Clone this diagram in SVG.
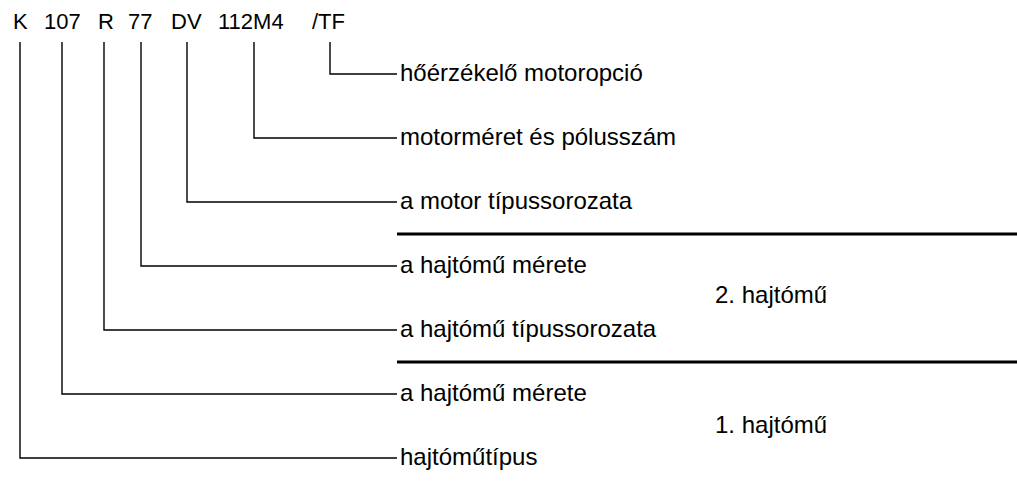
<svg xmlns="http://www.w3.org/2000/svg" width="1017" height="486" viewBox="0 0 1017 486">
  <style>
    .code { font-family: "Liberation Sans", Arial, sans-serif; font-size: 22px; fill: #000; }
    .lbl { font-family: "Liberation Sans", Arial, sans-serif; font-size: 24px; fill: #000; }
    .lead { fill: none; stroke: #000; stroke-width: 1.4; }
    .sep { stroke: #000; stroke-width: 3.2; }
  </style>
  <rect width="1017" height="486" fill="#fff"/>

  <!-- type designation -->
  <g id="designation">
    <text class="code" y="29"><tspan x="13">K</tspan><tspan x="44">107</tspan><tspan x="98">R</tspan><tspan x="128">77</tspan><tspan x="171">DV</tspan><tspan x="218">112M4</tspan><tspan x="312">/TF</tspan></text>
  </g>

  <!-- leader lines from each code part to its label -->
  <g id="connectors">
    <path class="lead" d="M330 42 V74 H397"/>
    <path class="lead" d="M254 42 V138 H397"/>
    <path class="lead" d="M187 42 V202 H397"/>
    <path class="lead" d="M141 42 V266 H397"/>
    <path class="lead" d="M104 42 V330 H397"/>
    <path class="lead" d="M62 42 V394 H397"/>
    <path class="lead" d="M20 42 V458 H397"/>
  </g>

  <!-- gear unit group separators -->
  <g id="separators">
    <line class="sep" x1="397" y1="234" x2="1017" y2="234"/>
    <line class="sep" x1="397" y1="362" x2="1017" y2="362"/>
  </g>

  <g id="label-tf"><text class="lbl" x="400" y="81">hőérzékelő motoropció</text></g>
  <g id="label-motor-size"><text class="lbl" x="400" y="145">motorméret és pólusszám</text></g>
  <g id="label-motor-series"><text class="lbl" x="400" y="209">a motor típussorozata</text></g>
  <g id="label-gear2-size"><text class="lbl" x="400" y="273">a hajtómű mérete</text></g>
  <g id="label-gear2-series"><text class="lbl" x="400" y="337">a hajtómű típussorozata</text></g>
  <g id="label-gear1-size"><text class="lbl" x="400" y="401">a hajtómű mérete</text></g>
  <g id="label-gear-type"><text class="lbl" x="400" y="465">hajtóműtípus</text></g>

  <g id="group-2"><text class="lbl" x="715" y="303">2. hajtómű</text></g>
  <g id="group-1"><text class="lbl" x="715" y="433">1. hajtómű</text></g>
</svg>
